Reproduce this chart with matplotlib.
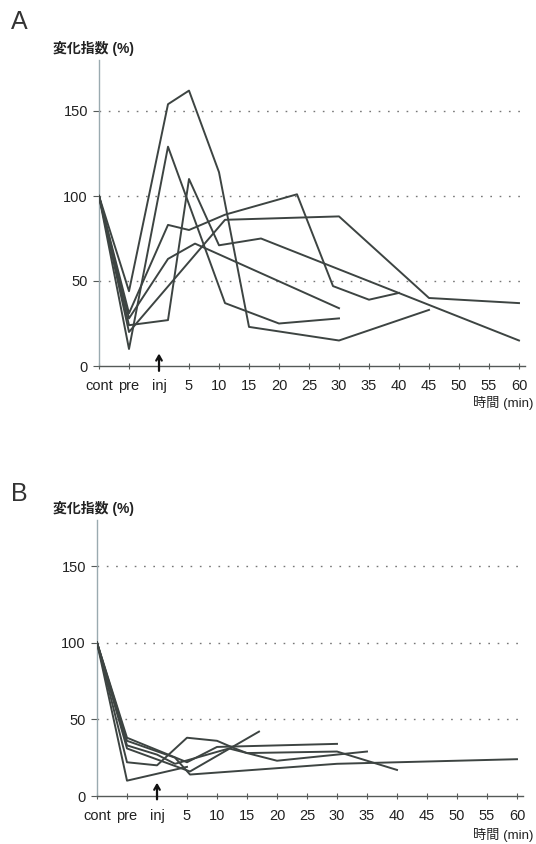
import matplotlib
matplotlib.use("Agg")
import matplotlib.pyplot as plt

plt.rcParams['font.family'] = ['Liberation Sans', 'Noto Sans CJK JP', 'DejaVu Sans']

# Time axis: cont and pre are placed before the injection (inj = 0 min)
tick_pos = [-10, -5, 0, 5, 10, 15, 20, 25, 30, 35, 40, 45, 50, 55, 60]
tick_labels = ["cont", "pre", "inj", "5", "10", "15", "20", "25", "30",
               "35", "40", "45", "50", "55", "60"]
y_ticks = [0, 50, 100, 150]

# Panel A: change index (%) per case
a1_t = [-10, -5, 1.5, 5, 10, 15, 30, 45]
a1_v = [100, 44, 154, 162, 114, 23, 15, 33]
a2_t = [-10, -5, 1.5, 11, 20, 30]
a2_v = [100, 10, 129, 37, 25, 28]
a3_t = [-10, -5, 1.5, 5, 10, 17, 60]
a3_v = [100, 24, 27, 110, 71, 75, 15]
a4_t = [-10, -5, 1.5, 5, 11, 23, 29, 35, 40]
a4_v = [100, 31, 83, 80, 89, 101, 47, 39, 43]
a5_t = [-10, -5, 1.5, 6, 30]
a5_v = [100, 28, 63, 72, 34]
a6_t = [-10, -5, 11, 30, 45, 60]
a6_v = [100, 20, 86, 88, 40, 37]

# Panel B: change index (%) per case
b1_t = [-10, -5, 5]
b1_v = [100, 10, 19]
b2_t = [-10, -5, 0, 5, 10, 13, 15, 30, 40]
b2_v = [100, 22, 20, 38, 36, 31, 28, 29, 17]
b3_t = [-10, -5, 3, 5.5, 30, 60]
b3_v = [100, 36, 25, 14, 21, 24]
b4_t = [-10, -5, 5.5, 17]
b4_v = [100, 31, 16, 42]
b5_t = [-10, -5, 5, 10, 30]
b5_v = [100, 38, 22, 32, 34]
b6_t = [-10, -5, 0, 3, 12, 20, 35]
b6_v = [100, 33, 27, 21, 31, 23, 29]

series_a = [(a1_t, a1_v), (a2_t, a2_v), (a3_t, a3_v),
            (a4_t, a4_v), (a5_t, a5_v), (a6_t, a6_v)]
series_b = [(b1_t, b1_v), (b2_t, b2_v), (b3_t, b3_v),
            (b4_t, b4_v), (b5_t, b5_v), (b6_t, b6_v)]

W, H = 536, 844
fig = plt.figure(figsize=(W / 100, H / 100), dpi=100)
fig.patch.set_facecolor("white")

line_color = "#3d4442"


def px_axes(left, right, top, bottom):
    return fig.add_axes([left / W, 1 - bottom / H, (right - left) / W, (bottom - top) / H])


def style_panel(ax, arrow_lo, arrow_hi):
    ax.set_xlim(-10, 61)
    ax.set_ylim(0, 180)
    for s in ("top", "right"):
        ax.spines[s].set_visible(False)
    ax.spines["left"].set_color("#9aaab0")
    ax.spines["left"].set_linewidth(1.0)
    ax.spines["bottom"].set_color("#555a58")
    ax.spines["bottom"].set_linewidth(1.0)
    ax.set_yticks(y_ticks)
    ax.set_yticklabels([str(v) for v in y_ticks])
    ax.set_xticks(tick_pos)
    ax.set_xticklabels(tick_labels)
    ax.tick_params(axis="y", direction="out", length=4, width=0.8,
                   color="#555a58", labelsize=10.5, labelcolor="#222", pad=4)
    ax.tick_params(axis="x", direction="inout", length=5, width=0.8,
                   color="#555a58", labelsize=10.5, labelcolor="#222", pad=7)
    for g in (50, 100, 150):
        ax.axhline(g, color="#777", linestyle=(0, (1.2, 5.5)), linewidth=1.0, zorder=1)
    ax.annotate("", xy=(0, arrow_hi), xytext=(0, arrow_lo),
                arrowprops=dict(arrowstyle="->,head_length=0.35,head_width=0.2",
                                color="#111", linewidth=1.6),
                annotation_clip=False, zorder=5)


axA = px_axes(99, 525, 60, 366)
for t, v in series_a:
    axA.plot(t, v, color=line_color, linewidth=1.4, zorder=3)
style_panel(axA, -4.5, 9)

axB = px_axes(97, 523, 520, 796)
for t, v in series_b:
    axB.plot(t, v, color=line_color, linewidth=1.4, zorder=3)
style_panel(axB, -4, 10.5)

# Panel letters and axis titles
fig.text(11 / W, 1 - 22 / H, "A", fontsize=18, color="#333", va="center", ha="left")
fig.text(11 / W, 1 - 494 / H, "B", fontsize=18, color="#333", va="center", ha="left")
for yc in (48, 508):
    fig.text(53 / W, 1 - yc / H, "変化指数 (%)", fontsize=10, fontweight="bold",
             color="#222", va="center", ha="left")
for yc in (403, 835):
    fig.text(533 / W, 1 - yc / H, "時間 (min)", fontsize=9.5,
             color="#222", va="center", ha="right")

fig.savefig("out.png", dpi=100, facecolor="white")
